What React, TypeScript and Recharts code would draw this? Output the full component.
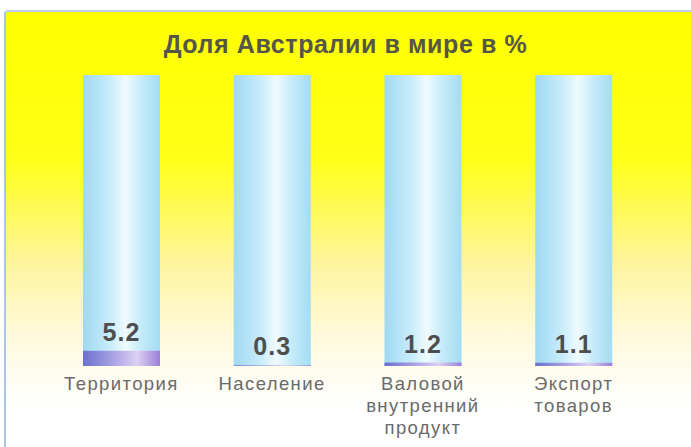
import React from 'react'
import { BarChart, Bar, XAxis, YAxis, LabelList } from 'recharts'

// категории и значения (доля в мире, %)
const categories = ['Территория', 'Население', 'Валовой\nвнутренний\nпродукт', 'Экспорт\nтоваров']
const shares = [5.2, 0.3, 1.2, 1.1]
const yTicks = [0, 100]

const chartData = categories.map((name, i) => ({ name, value: shares[i] }))

const TEXT_FONT = 'Liberation Sans, Arial, sans-serif'

const CategoryTick = ({ x, y, payload }: any) => {
  const lines = String(payload.value).split('\n')
  return (
    <text x={x} y={y} textAnchor="middle" fill="#6a6a6a" fontFamily={TEXT_FONT} fontSize={18.5} letterSpacing={1.4}>
      {lines.map((line, i) => (
        <tspan key={i} x={x} dy={i === 0 ? 16 : 22}>
          {line}
        </tspan>
      ))}
    </text>
  )
}

const ValueLabel = ({ x, y, width, value }: any) => (
  <text
    x={x + width / 2}
    y={y - 10}
    textAnchor="middle"
    fill="#4e4e4e"
    fontFamily={TEXT_FONT}
    fontWeight="bold"
    fontSize={25}
    letterSpacing={1}
  >
    {value}
  </text>
)

export default function App() {
  return (
    <div style={{ position: 'absolute', left: 0, top: 0, width: 691, height: 447, background: '#fff', overflow: 'hidden' }}>
      {/* жёлтая подложка с рамкой */}
      <div
        style={{
          position: 'absolute',
          left: 4,
          top: 10,
          width: 700,
          height: 450,
          borderLeft: '2px solid #a9c6ea',
          borderTop: '2px solid #b9d3ef',
          borderTopLeftRadius: 4,
          background: 'linear-gradient(180deg, #ffff00 0%, #ffff18 33%, #fff49a 55%, #fffadd 72%, #ffffff 88%)',
        }}
      />
      <div
        style={{
          position: 'absolute',
          left: 0,
          top: 30,
          width: 691,
          textAlign: 'center',
          fontFamily: TEXT_FONT,
          fontWeight: 'bold',
          fontSize: 25,
          color: '#555548',
          letterSpacing: 0.6,
        }}
      >
        Доля Австралии в мире в %
      </div>
      <div style={{ position: 'absolute', left: 0, top: 0 }}>
        <BarChart width={691} height={447} data={chartData} margin={{ top: 75, right: 42, left: 46, bottom: 51 }}>
          <defs>
            <linearGradient id="tube" x1="0" y1="0" x2="1" y2="0">
              <stop offset="0%" stopColor="#9fd9f2" />
              <stop offset="35%" stopColor="#c8ecfa" />
              <stop offset="55%" stopColor="#effbff" />
              <stop offset="75%" stopColor="#c6ebf9" />
              <stop offset="100%" stopColor="#a3dcf3" />
            </linearGradient>
            <linearGradient id="fillBar" x1="0" y1="0" x2="1" y2="0">
              <stop offset="0%" stopColor="#6b70cf" />
              <stop offset="45%" stopColor="#b3aae6" />
              <stop offset="70%" stopColor="#ddd0f4" />
              <stop offset="100%" stopColor="#9a7fd6" />
            </linearGradient>
          </defs>
          <XAxis dataKey="name" axisLine={false} tickLine={false} interval={0} tick={<CategoryTick />} />
          <YAxis hide domain={[0, 100]} ticks={yTicks} />
          <Bar
            dataKey="value"
            barSize={77}
            fill="url(#fillBar)"
            background={{ fill: 'url(#tube)' }}
            isAnimationActive={false}
          >
            <LabelList dataKey="value" content={<ValueLabel />} />
          </Bar>
        </BarChart>
      </div>
    </div>
  )
}
